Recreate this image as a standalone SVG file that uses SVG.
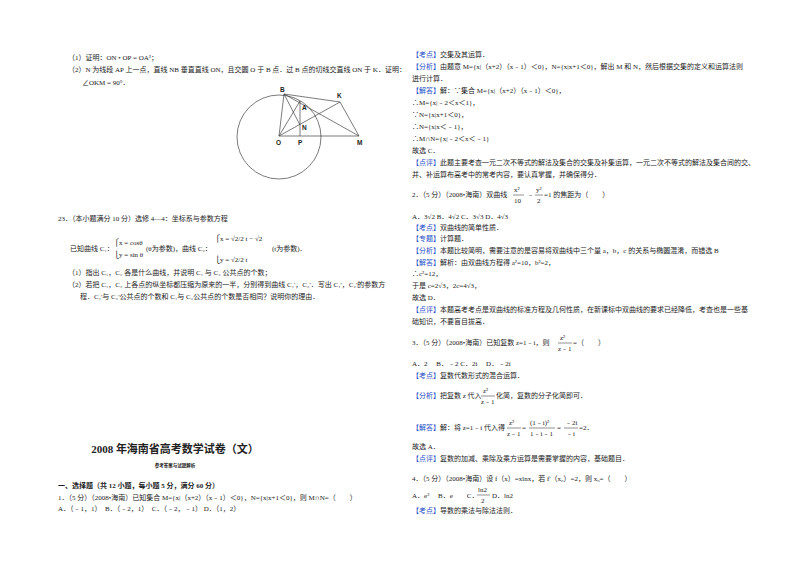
<svg xmlns="http://www.w3.org/2000/svg" width="800" height="566" viewBox="0 0 800 566">
<style>
text{font-family:"Liberation Serif","Noto Sans CJK SC",serif;font-size:7px;fill:#222}
.b{fill:#1f4ec8}
.s{font-family:"Liberation Sans","Noto Sans CJK SC",sans-serif;font-size:6.5px;font-weight:bold}
.g line,.g circle{stroke:#444;stroke-width:0.7;fill:none}
</style>
<rect width="800" height="566" fill="#fff"/>
<g id="left-top">
<text x="68" y="60">（1）证明：ON • OP = OA²；</text>
<text x="68" y="72">（2）N 为线段 AP 上一点，直线 NB 垂直直线 ON，且交圆 O 于 B 点．过 B 点的切线交直线 ON 于 K．证明：</text>
<text x="82" y="85">∠OKM = 90°．</text>
</g>
<g id="figure" class="g">
<circle cx="279" cy="137" r="42"/>
<line x1="284" y1="94" x2="279" y2="136"/>
<line x1="284" y1="94" x2="300" y2="125"/>
<line x1="284" y1="94" x2="340" y2="102"/>
<line x1="284" y1="94" x2="359" y2="136"/>
<line x1="279" y1="136" x2="340" y2="102"/>
<line x1="279" y1="136" x2="359" y2="136"/>
<line x1="279" y1="136" x2="300" y2="101"/>
<line x1="300" y1="101" x2="300" y2="136"/>
<line x1="340" y1="102" x2="359" y2="136"/>
<text class="s" x="280" y="92">B</text>
<text class="s" x="302" y="110">A</text>
<text class="s" x="302" y="130">N</text>
<text class="s" x="276" y="145">O</text>
<text class="s" x="298" y="145">P</text>
<text class="s" x="337" y="98">K</text>
<text class="s" x="357" y="145">M</text>
</g>
<g id="q23">
<text x="58" y="221">23．（本小题满分 10 分）选修 4—4：坐标系与参数方程</text>
<text x="70" y="251">已知曲线 C₁：</text>
<text x="114" y="245">⎧x = cosθ</text>
<text x="114" y="257">⎩y = sin θ</text>
<text x="146" y="251">(θ为参数)，曲线 C₂：</text>
<text x="215" y="241">⎧x = √2/2 t − √2</text>
<text x="215" y="262">⎩y = √2/2 t</text>
<text x="272" y="251">(t为参数)．</text>
<text x="68" y="275">（1）指出 C₁，C₂ 各是什么曲线，并说明 C₁ 与 C₂ 公共点的个数；</text>
<text x="68" y="287">（2）若把 C₁，C₂ 上各点的纵坐标都压缩为原来的一半，分别得到曲线 C₁'，C₂'．写出 C₁'，C₂'的参数方</text>
<text x="80" y="299">程．C₁'与 C₂'公共点的个数和 C₁与 C₂公共点的个数是否相同？说明你的理由．</text>
</g>
<g id="title">
<text x="175" y="453" text-anchor="middle" style="font-size:11px;font-weight:bold">2008 年海南省高考数学试卷（文）</text>
<text x="175" y="467" text-anchor="middle" style="font-size:4.5px;font-weight:bold">参考答案与试题解析</text>
<text x="58" y="488" style="font-weight:bold">一、选择题（共 12 小题，每小题 5 分，满分 60 分）</text>
<text x="58" y="500">1．（5 分）（2008•海南）已知集合 M={x|（x+2）（x﹣1）＜0}，N={x|x+1＜0}，则 M∩N=（　　）</text>
<text x="58" y="511">A．（﹣1，1）　B．（﹣2，1）　C．（﹣2，﹣1） D．（1，2）</text>
</g>
<g id="right">
<text x="412" y="57"><tspan class="b">【考点】</tspan>交集及其运算．</text>
<text x="412" y="69"><tspan class="b">【分析】</tspan>由题意 M={x|（x+2）（x﹣1）＜0}，N={x|x+1＜0}，解出 M 和 N，然后根据交集的定义和运算法则</text>
<text x="412" y="81">进行计算．</text>
<text x="412" y="93"><tspan class="b">【解答】</tspan>解：∵集合 M={x|（x+2）（x﹣1）＜0}，</text>
<text x="412" y="105">∴M={x|﹣2＜x＜1}，</text>
<text x="412" y="117">∵N={x|x+1＜0}，</text>
<text x="412" y="129">∴N={x|x＜﹣1}，</text>
<text x="412" y="141">∴M∩N={x|﹣2＜x＜﹣1}</text>
<text x="412" y="153">故选 C．</text>
<text x="412" y="165"><tspan class="b">【点评】</tspan>此题主要考查一元二次不等式的解法及集合的交集及补集运算，一元二次不等式的解法及集合间的交、</text>
<text x="412" y="177">并、补运算布高考中的常考内容，要认真掌握，并确保得分．</text>
<text x="412" y="197">2．（5 分）（2008•海南）双曲线</text>
<text x="514" y="192">x²</text><line x1="513" y1="195" x2="524" y2="195" stroke="#222" stroke-width="0.5"/><text x="514" y="203">10</text>
<text x="527" y="197">﹣</text>
<text x="536" y="192">y²</text><line x1="535" y1="195" x2="543" y2="195" stroke="#222" stroke-width="0.5"/><text x="537" y="203">2</text>
<text x="544" y="197">=1 的焦距为（　　）</text>
<text x="412" y="219">A．3√2 B．4√2 C．3√3 D．4√3</text>
<text x="412" y="230"><tspan class="b">【考点】</tspan>双曲线的简单性质．</text>
<text x="412" y="241"><tspan class="b">【专题】</tspan>计算题．</text>
<text x="412" y="253"><tspan class="b">【分析】</tspan>本题比较简明，需要注意的是容易将双曲线中三个量 a，b，c 的关系与椭圆混淆，而错选 B</text>
<text x="412" y="265"><tspan class="b">【解答】</tspan>解析：由双曲线方程得 a²=10，b²=2，</text>
<text x="412" y="276">∴c²=12，</text>
<text x="412" y="288">于是 c=2√3，2c=4√3，</text>
<text x="412" y="300">故选 D．</text>
<text x="412" y="312"><tspan class="b">【点评】</tspan>本题高考考点是双曲线的标准方程及几何性质，在新课标中双曲线的要求已经降低，考查也是一些基</text>
<text x="412" y="324">础知识，不要盲目拔高．</text>
<text x="412" y="345">3．（5 分）（2008•海南）已知复数 z=1﹣i，则</text>
<text x="560" y="340">z²</text><line x1="558" y1="343" x2="572" y2="343" stroke="#222" stroke-width="0.5"/><text x="558" y="351">z﹣1</text>
<text x="573" y="345">=（　　）</text>
<text x="412" y="366">A．2　 B．﹣2 C．2i　 D．﹣2i</text>
<text x="412" y="378"><tspan class="b">【考点】</tspan>复数代数形式的混合运算．</text>
<text x="412" y="398"><tspan class="b">【分析】</tspan>把复数 z 代入</text>
<text x="483" y="393">z²</text><line x1="481" y1="396" x2="495" y2="396" stroke="#222" stroke-width="0.5"/><text x="481" y="404">z﹣1</text>
<text x="496" y="398">化简，复数的分子化简即可．</text>
<text x="412" y="430"><tspan class="b">【解答】</tspan>解：将 z=1﹣i 代入得</text>
<text x="509" y="425">z²</text><line x1="507" y1="428" x2="521" y2="428" stroke="#222" stroke-width="0.5"/><text x="507" y="436">z﹣1</text>
<text x="522" y="430">=</text>
<text x="530" y="425">(1﹣i)²</text><line x1="529" y1="428" x2="555" y2="428" stroke="#222" stroke-width="0.5"/><text x="530" y="436">1﹣i﹣1</text>
<text x="557" y="430">=</text>
<text x="565" y="425">﹣2i</text><line x1="564" y1="428" x2="578" y2="428" stroke="#222" stroke-width="0.5"/><text x="566" y="436">﹣i</text>
<text x="579" y="430">=2．</text>
<text x="412" y="449">故选 A．</text>
<text x="412" y="461"><tspan class="b">【点评】</tspan>复数的加减、乘除及乘方运算是需要掌握的内容，基础题目．</text>
<text x="412" y="481">4．（5 分）（2008•海南）设 f（x）=xlnx，若 f'（x₀）=2，则 x₀=（　　）</text>
<text x="412" y="498">A．e²　 B．e　　C．</text>
<text x="478" y="492">ln2</text><line x1="477" y1="495" x2="490" y2="495" stroke="#222" stroke-width="0.5"/><text x="481" y="503">2</text>
<text x="492" y="498">D．ln2</text>
<text x="412" y="513"><tspan class="b">【考点】</tspan>导数的乘法与除法法则．</text>
</g>
</svg>
